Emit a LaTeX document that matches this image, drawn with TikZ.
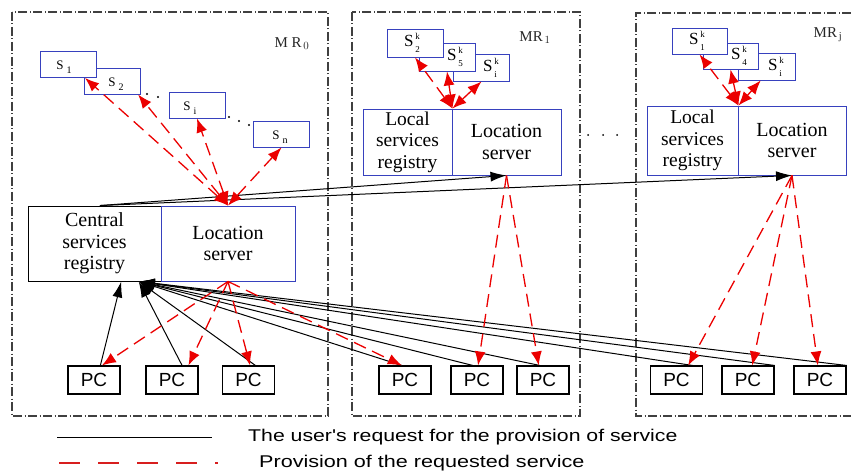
\documentclass[tikz,border=0pt]{standalone}
\usepackage{fontspec}
\setmainfont{Liberation Serif}
\newfontfamily\arialf{Liberation Sans}
\usetikzlibrary{arrows.meta,calc}
\definecolor{boxblue}{RGB}{55,65,190}
\definecolor{provred}{RGB}{235,0,0}
\definecolor{legred}{RGB}{215,30,30}
\newcommand\Sone[1]{S\hspace{3pt}\raisebox{-4pt}{\fontsize{10}{10}\selectfont #1}}
\newcommand\Skk[1]{S\hspace{2pt}\rlap{\raisebox{7pt}{\fontsize{9}{9}\selectfont k}}\raisebox{-6pt}{\fontsize{9}{9}\selectfont #1}}
\begin{document}
\begin{tikzpicture}[x=1pt,y=-1pt,
 mrframe/.style={draw=black!75, line width=1.1pt, dash pattern=on 9pt off 2.5pt on 1pt off 2.5pt},
 sbox/.style={draw=boxblue, line width=0.9pt, fill=white, minimum width=56pt, minimum height=26pt, inner sep=0pt},
 slab/.style={inner sep=0pt, font=\fontsize{13}{13}\selectfont},
 sklab/.style={inner sep=0pt, font=\fontsize{17}{17}\selectfont},
 bigbox/.style={line width=0.9pt, fill=white, inner sep=0pt, align=center, font=\fontsize{20}{21.5}\selectfont},
 pcbox/.style={draw=black, line width=1.1pt, minimum width=52pt, minimum height=28pt, inner sep=0pt, font=\arialf\fontsize{19}{19}\selectfont},
 req/.style={draw=black, line width=1pt, -{Latex[length=16pt,width=10pt]}},
 prov/.style={draw=provred, line width=1.3pt, dash pattern=on 13pt off 7pt, -{Latex[length=14pt,width=11pt]}},
 provtwo/.style={prov, {Latex[length=14pt,width=11pt]}-{Latex[length=14pt,width=11pt]}},
 dotm/.style={fill=black, circle, inner sep=0pt, minimum size=2.2pt},
 mrlab/.style={font=\fontsize{15}{15}\selectfont, text=black!85},
 legtext/.style={anchor=west, inner sep=0pt, font=\arialf\fontsize{17}{17}\selectfont}
]
\useasboundingbox (0,0) rectangle (851,473);

% frames
\draw[mrframe] (12,12) rectangle (328,416);
\draw[mrframe] (352,12) rectangle (580,416);
\draw[mrframe] (851,13) -- (636,13) -- (636,416) -- (851,416);

% frame labels
\node[mrlab] (mr0) at (292,44) {M R$_{\,0}$};
\node[mrlab] (mr1) at (535,38) {MR$_{\,1}$};
\node[mrlab] (mrj) at (828,35) {MR$_{\,\mathrm{j}}$};

% MR0 services
\node[sbox] (s2) at (112.5,81) {};
\node[slab] (s2t) at (116,84) {\Sone{2}};
\node[sbox] (s1) at (68.5,64.5) {};
\node[slab] (s1t) at (64,67) {\Sone{1}};
\node[sbox] (si) at (197,105) {};
\node[slab] (sit) at (190,108) {\Sone{i}};
\node[sbox] (sn) at (281.5,134) {};
\node[slab] (snt) at (280,137) {\Sone{n}};
\node[dotm] (d1) at (147,94) {};
\node[dotm] (d2) at (158,97) {};
\node[dotm] (d3) at (229,117) {};
\node[dotm] (d4) at (239,121) {};
\node[dotm] (d5) at (249,125) {};

% MR1 services
\node[sbox, minimum height=27pt] (sik) at (481.5,67.5) {};
\node[sklab] (sikt) at (490,68) {\Skk{i}};
\node[sbox, minimum height=28pt] (s5k) at (447,57) {};
\node[sklab] (s5kt) at (455,57) {\Skk{5}};
\node[sbox, minimum height=28pt] (s2k) at (415,43) {};
\node[sklab] (s2kt) at (412,43) {\Skk{2}};

% MRj services
\node[sbox, minimum width=57pt, minimum height=27pt] (sikj) at (766.5,66.5) {};
\node[sklab] (sikjt) at (775,67) {\Skk{i}};
\node[sbox, minimum width=55pt] (s4kj) at (730.5,56) {};
\node[sklab] (s4kjt) at (739,56) {\Skk{4}};
\node[sbox, minimum width=55pt] (s1kj) at (699.5,41) {};
\node[sklab] (s1kjt) at (697,41) {\Skk{1}};

% servers / registries
\node[bigbox, draw=black, minimum width=133pt, minimum height=75pt] (csr) at (94.5,243.5) {Central\\services\\registry};
\node[bigbox, draw=boxblue, minimum width=134pt, minimum height=75pt] (ls0) at (228,243.5) {Location\\server};
\node[bigbox, draw=boxblue, minimum width=89pt, minimum height=66pt, font=\fontsize{19.5}{21.5}\selectfont] (lsr1) at (407.5,142) {Local\\services\\registry};
\node[bigbox, draw=boxblue, minimum width=109pt, minimum height=66pt] (ls1) at (506.5,142) {Location\\server};
\node[bigbox, draw=boxblue, minimum width=91pt, minimum height=69pt, font=\fontsize{19.5}{21.5}\selectfont] (lsrj) at (692.5,140.5) {Local\\services\\registry};
\node[bigbox, draw=boxblue, minimum width=108pt, minimum height=69pt] (lsj) at (792,140.5) {Location\\server};

\node[dotm, minimum size=2pt] (e1) at (588,135) {};
\node[dotm, minimum size=2pt] (e2) at (603,135) {};
\node[dotm, minimum size=2pt] (e3) at (617,135) {};

% PCs
\node[pcbox] (pc01) at (94,380) {PC};
\node[pcbox] (pc02) at (172,380) {PC};
\node[pcbox] (pc03) at (248.5,380) {PC};
\node[pcbox] (pc11) at (405,380) {PC};
\node[pcbox] (pc12) at (477,380) {PC};
\node[pcbox] (pc13) at (543,380) {PC};
\node[pcbox] (pcj1) at (676.5,380) {PC};
\node[pcbox] (pcj2) at (748,380) {PC};
\node[pcbox] (pcj3) at (820,380) {PC};

% helper points
\coordinate (csrtop) at ($(csr.north west)!0.54!(csr.north east)$);
\coordinate (csrb1) at ($(csr.south west)!0.70!(csr.south east)$);
\coordinate (csrb2) at ($(csr.south west)!0.83!(csr.south east)$);

% user's requests (black)
\draw[req] ($(pc01.north west)!0.62!(pc01.north east)$) -- (csrb1);
\draw[req] ($(pc02.north west)!0.69!(pc02.north east)$) -- (csrb2);
\draw[req] ($(pc03.north west)!0.63!(pc03.north east)$) -- (csrb2);
\draw[req] ($(pc11.north west)!0.44!(pc11.north east)$) -- (csrb2);
\draw[req] ($(pc12.north west)!0.42!(pc12.north east)$) -- (csrb2);
\draw[req] ($(pc13.north west)!0.44!(pc13.north east)$) -- (csrb2);
\draw[req] ($(pcj1.north west)!0.80!(pcj1.north east)$) -- (csrb2);
\draw[req] (pcj2.north east) -- (csrb2);
\draw[req] (pcj3.north east) -- (csrb2);
\draw[req] (csrtop) -- (ls1.south);
\draw[req] (csrtop) -- (lsj.south);

% provision (red dashed)
\draw[provtwo] (ls0.north) -- ($(s1.south west)!0.79!(s1.south east)$);
\draw[provtwo] (ls0.north) -- ($(s2.south west)!0.95!(s2.south east)$);
\draw[provtwo] (ls0.north) -- (si.south);
\draw[provtwo] (ls0.north) -- (sn.south);

\draw[prov] (ls0.south) -- ($(pc01.north west)!0.65!(pc01.north east)$);
\draw[prov] (ls0.south) -- ($(pc02.north west)!0.81!(pc02.north east)$);
\draw[prov] (ls0.south) -- ($(pc03.north west)!0.53!(pc03.north east)$);
\draw[prov] (ls0.south) -- ($(pc11.north west)!0.44!(pc11.north east)$);

\draw[provtwo] (lsr1.north east) -- (s2k.south);
\draw[provtwo] (lsr1.north east) -- (s5k.south);
\draw[provtwo] (lsr1.north east) -- (sik.south);
\draw[prov] (ls1.south) -- ($(pc12.north west)!0.52!(pc12.north east)$);
\draw[prov] (ls1.south) -- ($(pc13.north west)!0.42!(pc13.north east)$);

\draw[provtwo] (lsrj.north east) -- (s1kj.south);
\draw[provtwo] (lsrj.north east) -- (s4kj.south);
\draw[provtwo] (lsrj.north east) -- ($(sikj.south west)!0.4!(sikj.south east)$);
\draw[prov] (lsj.south) -- ($(pcj1.north west)!0.72!(pcj1.north east)$);
\draw[prov] (lsj.south) -- ($(pcj2.north west)!0.58!(pcj2.north east)$);
\draw[prov] (lsj.south) -- ($(pcj3.north west)!0.46!(pcj3.north east)$);

% legend
\coordinate (la1) at (57,437);
\coordinate (la2) at (212,437);
\coordinate (lb1) at (59,463);
\coordinate (lb2) at (218,463);
\draw[line width=1pt] (la1) -- (la2);
\draw[draw=legred, line width=1.1pt, dash pattern=on 21pt off 18pt] (lb1) -- (lb2);
\node[legtext] (lt1) at (248,437) {\scalebox{1.25}[1]{The user's request for the provision of service}};
\node[legtext] (lt2) at (259,463) {\scalebox{1.27}[1]{Provision of the requested service}};
\end{tikzpicture}
\end{document}
